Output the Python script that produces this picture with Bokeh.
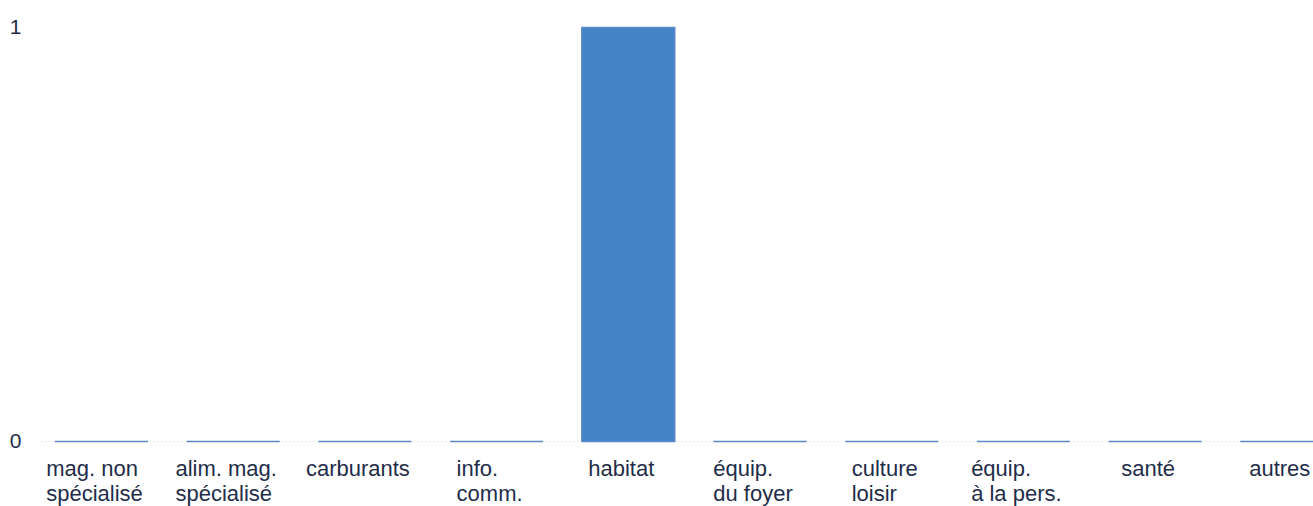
from bokeh.plotting import figure
from bokeh.models import FixedTicker, ColumnDataSource, Range1d
from bokeh.core.properties import value
from bokeh.embed import file_html
from bokeh.resources import INLINE

categories = ["mag. non\nspécialisé", "alim. mag.\nspécialisé", "carburants", "info.\ncomm.",
              "habitat", "équip.\ndu foyer", "culture\nloisir", "équip.\nà la pers.", "santé", "autres"]
values = [0, 0, 0, 0, 1, 0, 0, 0, 0, 0]
y_ticks = [0, 1]

xs = list(range(len(categories)))
src = ColumnDataSource(dict(x=xs, top=values, label=categories, base=[0] * len(xs)))

p = figure(width=1313, height=506, output_backend="svg", toolbar_location=None,
           x_range=Range1d(-0.486, 9.203), y_range=Range1d(-0.157, 1.024),
           min_border_left=37, min_border_right=0, min_border_top=17, min_border_bottom=0)
p.outline_line_color = None
p.background_fill_color = "white"
p.border_fill_color = "white"

p.vbar(x="x", top="top", bottom=0, width=0.706, source=src,
       fill_color="#4583c7", line_color="#5b88c8", line_width=1.5)

p.text(x="x", y="base", text="label", source=src, anchor="top_center", text_align="left",
       x_offset=-7, y_offset=15, text_font=value("Liberation Sans"), text_font_size="22px",
       text_color="#1f2d4a", text_line_height=1.0)

p.xaxis.visible = False
p.xgrid.visible = False
p.ygrid.ticker = FixedTicker(ticks=[0])
p.ygrid.grid_line_color = "#d8d8d8"
p.ygrid.grid_line_dash = "1 3"

ya = p.yaxis[0]
ya.ticker = FixedTicker(ticks=y_ticks)
ya.axis_line_color = None
ya.major_tick_line_color = None
ya.minor_tick_line_color = None
ya.major_tick_out = 0
ya.major_tick_in = 0
ya.major_label_standoff = 16
ya.major_label_text_font = "Liberation Sans"
ya.major_label_text_font_size = "21px"
ya.major_label_text_color = "#1f2d4a"

open("out.html", "w").write(file_html(p, INLINE))
